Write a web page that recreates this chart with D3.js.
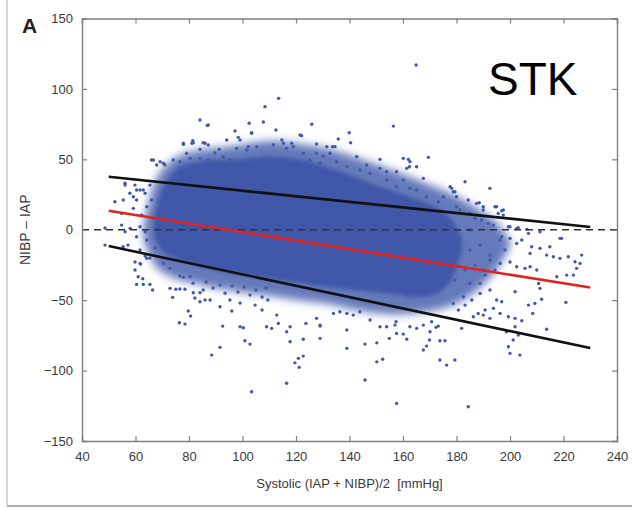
<!DOCTYPE html>
<html>
<head>
<meta charset="utf-8">
<script src="https://cdn.jsdelivr.net/npm/d3@7"></script>
<style>
  body { margin: 0; background: #fff; }
  svg { display: block; font-family: "Liberation Sans", Arial, Helvetica, sans-serif; }
</style>
</head>
<body>
<script>
// tick labels
const xTicks = [40, 60, 80, 100, 120, 140, 160, 180, 200, 220, 240];
const yTicks = [-150, -100, -50, 0, 50, 100, 150];

// dense centre of the cloud (x, upper edge, lower edge)
const coreX   = [67, 69, 72, 76, 84, 99, 110, 121, 129, 138, 148, 157, 166, 174, 179, 182];
const coreTop = [8, 24, 35, 44, 48.5, 50, 52, 50, 46, 40.5, 33, 27, 21, 14, 5, -6];
const coreBot = [-4, -12, -18, -21, -26, -32, -35, -38, -40, -42, -44, -46, -48, -44, -32, -14];

// thinner band round the centre
const bandX   = [63, 65, 68, 74, 82, 95, 110, 121, 133, 144, 155, 166, 178, 187, 195, 200];
const bandTop = [3, 20, 37, 50, 56, 59, 63, 61, 57, 50.5, 43, 35, 25.5, 16, 5, -8];
const bandBot = [-6, -17, -27, -34, -38, -43, -47, -50, -53, -57.5, -60, -59, -54, -44, -28, -12];

// scattered points outside the dense part, [mean, difference]
const points = [
  [164.9,117],[113.5,93.3],[108.4,87.4],[84.1,77.9],[86.8,74.1],[102.5,75.6],[107.8,76.5],[112.5,70.8],
  [97.2,70.1],[125.9,74.9],[156.4,73.6],[139.9,68.9],[140.4,61.8],[77.9,60.6],[81.1,61.4],[81.4,63.2],
  [85.3,61.8],[94.1,63.7],[98.4,65.6],[103.4,68.5],[102.2,59],[91.3,57.1],[115.3,61.4],[121.5,67.3],
  [119,59],[66.7,49.5],[70.4,47.2],[67.9,46],[56.1,33],[60.4,28.2],[52.3,19.9],[59.2,23.4],[62.9,28.2],
  [169.5,51.4],[183.2,34.1],[192.5,29.4],[151.4,50],[160.1,50.7],[162,50],[162.4,44.7],[133.7,59],
  [127.7,54.3],[130.2,52.3],[177.6,30.5],[178.8,27],[187.5,18.7],[190,16.3],[194.4,16.3],[196.9,13.5],
  [197.5,10.4],[200,2.1],[203.1,1.4],[206.3,0.3],[218.7,-6.1],[211.2,-13.2],
  [122.1,66.8],[135.8,64.4],[114.7,63.7],[111.5,60.2],[118.4,61.4],[116.5,57.8],[127.7,60.9],[131.5,59],
  [134.6,59],[132.7,54.3],[142.7,51.8],[146.4,46],[151.4,43.6],[153.9,41.2],[157.6,41.2],[165.1,44.7],
  [167.6,36.5],[168.8,23.4],[175.1,23.4],[173.2,19.9],[170.1,16.3],[165.1,28.2],[162.6,29.4],[157.6,30.5],
  [122.7,54.3],[125.2,49.5],[129,47.2],[135.2,48.3],[139,44.7],[143.9,42.4],[147.7,40.1],[153.9,35.3],
  [160.1,35.3],[162.6,48.3],[161.4,43.6],
  [87.2,74.4],[103.4,68.9],[99.1,63.7],[77.9,61.4],[81.6,61.8],[86,61.4],[87.2,60.2],[84.1,57.1],
  [89.7,54.7],[97.8,57.8],[101.6,56.6],[105.3,59],[66,49.5],[69.2,48.3],[71,46],[74.1,49.5],[76.6,48.3],
  [79.1,54.3],[80.4,50.7],[84.1,50.7],[87.2,49.5],[92.8,51.8],[95.3,49.5],
  [56.1,31.7],[59.8,31.7],[57.9,25.9],[60.4,21.1],[55.4,21.1],[59.2,15.2],[54.8,11.6],[62.3,10.4],
  [64.2,16.3],[66,21.1],[63.6,25.9],[61.7,28.2],[65.4,31.7],[54.8,3.3],[58,1],[56.1,-1.4],[61.7,2.1],
  [63.6,-1.4],[60.4,-5],[64.2,-7.3],[55.4,-12.1],[57.2,-10.9],[61.7,-14.4],[65.4,-20.1],[59.8,-22.9],
  [67.3,-13],[63.6,-18.7],[48.6,-10.9],[48.6,1.2],[59.8,-28.6],
  [61.7,-23.9],[64.2,-20.3],[61,-33.4],[62.7,-34.8],[60.4,-38.8],[62.9,-38.8],[65.4,-38.8],[66.4,-42.8],
  [70.4,-23.9],[72.9,-27.4],[72.9,-41.6],[75.1,-42.3],[76.6,-42.1],[78.5,-42.3],[73.9,-48],[76.6,-32.9],
  [77.9,-33.8],[80.4,-33.4],[81.6,-44.7],[84.1,-44.7],[86,-49.9],[79.7,-57.7],[80.6,-61.3],[76.4,-66],
  [78.5,-67],[91.6,-54.7],[96,-57.7],[92.6,-68.4],[99.1,-68.9],[100.3,-69.6],[91.6,-83.5],[88.5,-89],
  [100.9,-78.8],[102.8,-81.2],[103.4,-115],[84.1,-51.1],[85.3,-42.8],[61.9,-24.4],
  [81.5,-37.9],[86.4,-37.1],[89,-41.4],[91.6,-39.3],[93.5,-45],[96.1,-40],[98.3,-44.2],[100.6,-40.7],
  [102.8,-46.4],[105,-42.8],[107.3,-47.8],[108.8,-41.4],[95.3,-49.9],[99.1,-52.1],[104.7,-53.5],
  [107.3,-57],[87.9,-49.9],[82.2,-48.5],[109.5,-49.9],
  [116.5,-109],[119.6,-94.5],[121.2,-97.7],[122.7,-89.7],[120.9,-91.3],[117.8,-79.5],[116.5,-72.4],
  [122.7,-77.8],[129,-77.1],[129,-68.4],[123.7,-66.5],[139,-84.2],[139,-71.2],[145.8,-106.7],[145.8,-81.2],
  [150.2,-93.8],[152.4,-92],[150.2,-80.3],[154.9,-77.1],[157.6,-123.3],[157.4,-65.3],[157.6,-73.6],
  [160.1,-74.1],[161.4,-77.8],[167.6,-85.4],[168.8,-82.6],[169.9,-78.3],[170.1,-72.4],[172.3,-69.3],
  [173.2,-68.4],[173.8,-78.8],[175.7,-78.8],[173.8,-92.5],[176.3,-96.1],[113.4,-66.5],[117.8,-68.9],
  [112.8,-60.6],[109,-68.9],[110.9,-70],[127.7,-62.9],
  [129,-67.7],[134,-59.4],[136.4,-58.2],[139,-59.4],[141.4,-60.6],[143.9,-58.2],[147.7,-64.1],[151.4,-68.9],
  [153.9,-68.9],[157,-67.7],[162.6,-68.9],[165.1,-70],[167.6,-67.7],[170.7,-65.3],
  [184.4,-125.7],[179.4,-92.5],[199.4,-83.1],[200,-87.8],[203.7,-89],[201.2,-78.3],[203.1,-74.8],
  [198.7,-72.4],[201.9,-68.9],[204.4,-64.6],[201.9,-62.9],[199.4,-61.8],[213.7,-70.7],[220.9,-51.6],
  [206.9,-53.5],[209.3,-52.3],[211.8,-49.4],[208.5,-59.4],[201.9,-44],[196.9,-51.1],[196.3,-59.4],
  [192.5,-62.9],[190,-60.6],[188.1,-59.4],[186.3,-61.8],[181.9,-70],[217.5,-33.4],[221.2,-32.2],
  [210.7,-38.1],[211.2,-41.6],[218.7,-20.3],[221.8,-19.2],[224.3,-22.7],[226.8,-18],[224.9,-27.4],
  [207.5,-16.8],[213.7,-18],[216.2,-19.2],[207.5,-26.3],[210,-28.6],[205.6,-27.4],[202.5,-26.3],
  [196.3,-23.9],[192.5,-21.5],[190,-28.6],[192.5,-42.8],[195,-49.9],[193.8,-55.8],[190.7,-57],
  [188.8,-45.2],[185.7,-49.9],[183.2,-53.5],[180.7,-57],[182.6,-47.6],[185,-38.1],[188.8,-38.1],
  [178.8,-52.3],[223.7,-32.2],[226.2,-23.9],
  [178.2,29.4],[179.4,27],[180,23.4],[184.4,21.1],[188.5,19.2],[190,14],[195,16.3],[197.5,14],
  [191.9,4.5],[195.6,11.6],[199.4,2.1],[202.5,1],[206.9,-2.6],[211.2,-1.4],[219.3,-6.1],[208.1,-12.1],
  [214.9,-12.1],[180,16.3],[181.3,14],[185,11.6],[186.9,8.1],[189.4,6.9],[193.8,3.3],[196.9,-5],
  [200,-6.1],[202.5,-9.7],[204.4,-7.3],
  [181.3,-7.3],[185,-14.4],[188.8,-10.9],[192.5,-18],[186.9,-25.1],[196.3,-7.3],[198.1,-14.4],
  [183.2,-28.6],[190.7,-32.2],[179.4,-35.7],[194.4,-28.6],[200,-22.9],[185,-0.2],[177.6,-21.5]
];

// bias and limits of agreement (regression lines)
const lineX    = [50, 230];
const meanLine = [13.5, -41];
const upperLoA = [37.6, 2];
const lowerLoA = [-11.6, -84];

const w = 632;
const h = 508;
const padLeft = 82, padRight = 617, padTop = 18.5, padBottom = 441;

const xScale = d3.scaleLinear().domain([40, 240]).range([padLeft, padRight]);
const yScale = d3.scaleLinear().domain([-150, 150]).range([padBottom, padTop]);

const blue = "#3f57a9";

const svg = d3.select("body")
            .append("svg")
            .attr("width", w)
            .attr("height", h);

const defs = svg.append("defs");

// soft edges for the dense cloud
defs.append("filter").attr("id", "soft").attr("x", "-10%").attr("y", "-20%")
    .attr("width", "120%").attr("height", "140%")
    .append("feGaussianBlur").attr("stdDeviation", 4);
defs.append("filter").attr("id", "softer").attr("x", "-10%").attr("y", "-20%")
    .attr("width", "120%").attr("height", "140%")
    .append("feGaussianBlur").attr("stdDeviation", 2);

defs.append("clipPath").attr("id", "plot")
   .append("rect").attr("x", padLeft).attr("y", padTop)
   .attr("width", padRight - padLeft).attr("height", padBottom - padTop);

// image frame
svg.append("line").attr("x1", 7).attr("x2", 7).attr("y1", 0).attr("y2", 506)
   .attr("stroke", "#c8c8c8").attr("stroke-width", 1.5);
svg.append("line").attr("x1", 7).attr("x2", w).attr("y1", 506).attr("y2", 506)
   .attr("stroke", "#b0b0b0").attr("stroke-width", 2);

const plot = svg.append("g").attr("clip-path", "url(#plot)");

const band = d3.area()
      .x((d, i) => xScale(bandX[i]))
      .y0((d, i) => yScale(bandBot[i]))
      .y1((d, i) => yScale(bandTop[i]))
      .curve(d3.curveCatmullRom);

plot.append("path")
    .attr("d", band(bandX))
    .attr("fill", blue)
    .attr("fill-opacity", 0.8)
    .attr("filter", "url(#soft)");

const core = d3.area()
      .x((d, i) => xScale(coreX[i]))
      .y0((d, i) => yScale(coreBot[i]))
      .y1((d, i) => yScale(coreTop[i]))
      .curve(d3.curveCatmullRom);

plot.append("path")
    .attr("d", core(coreX))
    .attr("fill", blue)
    .attr("filter", "url(#softer)");

plot.selectAll("circle")
    .data(points)
    .enter()
    .append("circle")
    .attr("cx", (d) => xScale(d[0]))
    .attr("cy", (d) => yScale(d[1]))
    .attr("r", 1.7)
    .attr("fill", "#4259aa");

// zero line
plot.append("line")
    .attr("x1", xScale(40)).attr("x2", xScale(240))
    .attr("y1", yScale(0)).attr("y2", yScale(0))
    .attr("stroke", "#333")
    .attr("stroke-width", 1.6)
    .attr("stroke-dasharray", "7,5");

const line = d3.line()
      .x((d, i) => xScale(lineX[i]))
      .y((d) => yScale(d));

plot.append("path").attr("d", line(upperLoA))
    .attr("fill", "none").attr("stroke", "#111").attr("stroke-width", 2.6);
plot.append("path").attr("d", line(lowerLoA))
    .attr("fill", "none").attr("stroke", "#111").attr("stroke-width", 2.6);
plot.append("path").attr("d", line(meanLine))
    .attr("fill", "none").attr("stroke", "#e0231f").attr("stroke-width", 2.6);

// axes, ticks pointing inwards
const xAxis = d3.axisBottom(xScale).tickValues(xTicks).tickSize(-5).tickPadding(9);
const yAxis = d3.axisLeft(yScale).tickValues(yTicks).tickSize(-5).tickPadding(9);

const gx = svg.append("g")
   .attr("transform", "translate(0," + padBottom + ")")
   .call(xAxis);
svg.append("g")
   .attr("transform", "translate(0," + padTop + ")")
   .call(d3.axisTop(xScale).tickValues(xTicks).tickSize(-5).tickFormat(""));
const gy = svg.append("g")
   .attr("transform", "translate(" + padLeft + ",0)")
   .call(yAxis);
svg.append("g")
   .attr("transform", "translate(" + padRight + ",0)")
   .call(d3.axisRight(yScale).tickValues(yTicks).tickSize(-5).tickFormat(""));

svg.selectAll(".domain").attr("stroke", "#808080").attr("stroke-width", 1.4);
svg.selectAll(".tick line").attr("stroke", "#808080").attr("stroke-width", 1.2);
svg.selectAll(".tick text")
   .attr("fill", "#3a3a3a")
   .style("font-size", "13px")
   .style("font-family", "'Liberation Sans', Arial, sans-serif");
gx.selectAll(".tick text").attr("dy", "0.85em");

svg.append("text")
   .attr("x", 22)
   .attr("y", 33)
   .style("font-size", "21px")
   .style("font-weight", "bold")
   .attr("fill", "#222")
   .text("A");

svg.append("text")
   .attr("x", 488)
   .attr("y", 95)
   .style("font-size", "46px")
   .attr("fill", "#000")
   .text("STK");

svg.append("text")
   .attr("text-anchor", "middle")
   .attr("transform", "translate(30," + yScale(0) + ") rotate(-90)")
   .style("font-size", "14px")
   .attr("fill", "#3a3a3a")
   .text("NIBP \u2013 IAP");

svg.append("text")
   .attr("text-anchor", "middle")
   .attr("x", (padLeft + padRight) / 2)
   .attr("y", 488)
   .style("font-size", "13px")
   .style("white-space", "pre")
   .attr("fill", "#3a3a3a")
   .text("Systolic (IAP + NIBP)/2  [mmHg]");
</script>
</body>
</html>
